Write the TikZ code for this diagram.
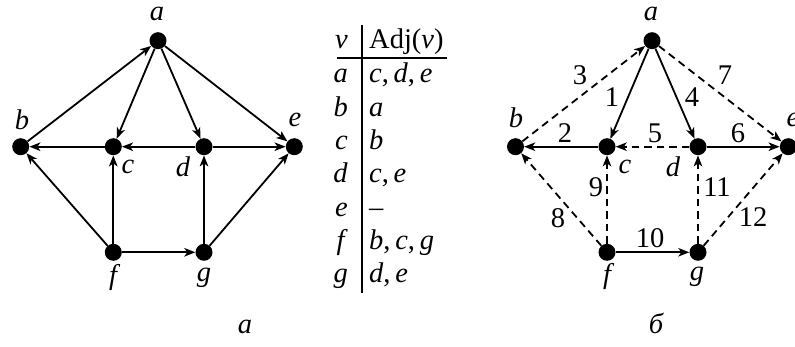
\documentclass[tikz,border=0pt]{standalone}
\usepackage{fontspec}
\setmainfont{Liberation Serif}
\usetikzlibrary{arrows.meta}
\newcommand\bigfont{\fontsize{28.5}{34}\selectfont}
\tikzset{
  vtx/.style={circle,fill=black,inner sep=0pt,minimum size=17pt},
  arc/.style={line width=1.8pt,-{Stealth[length=11pt,width=8.5pt,inset=3pt]}},
  treearc/.style={arc},
  backarc/.style={arc,dash pattern=on 7.5pt off 5pt},
  lbl/.style={inner sep=0pt,font=\bigfont\itshape},
  num/.style={inner sep=0pt,font=\bigfont},
  cell/.style={inner sep=0pt,font=\bigfont},
  rule/.style={line width=1.3pt},
}
\newcommand\mi[1]{\textit{#1}}
\begin{document}
\begin{tikzpicture}[x=1pt,y=-1pt]
\useasboundingbox (0,0) rectangle (795,347);

% ---------- left graph ----------
\node[vtx] (a1) at (158,40.7) {};
\node[vtx] (b1) at (20.7,146.7) {};
\node[vtx] (c1) at (113.3,146.7) {};
\node[vtx] (d1) at (204,146.7) {};
\node[vtx] (e1) at (294.3,146.7) {};
\node[vtx] (f1) at (113.3,252.3) {};
\node[vtx] (g1) at (204,252.3) {};

\node[lbl] (la1) at (157,14) {a};
\node[lbl] (lb1) at (22,120) {b};
\node[lbl] (lc1) at (128,167) {c};
\node[lbl] (ld1) at (183,167) {d};
\node[lbl] (le1) at (295,120) {e};
\node[lbl] (lf1) at (113,278) {f};
\node[lbl] (lg1) at (204,278) {g};

\draw[arc] (b1) -- (a1);
\draw[arc] (a1) -- (c1);
\draw[arc] (a1) -- (d1);
\draw[arc] (a1) -- (e1);
\draw[arc] (c1) -- (b1);
\draw[arc] (d1) -- (c1);
\draw[arc] (d1) -- (e1);
\draw[arc] (f1) -- (b1);
\draw[arc] (f1) -- (c1);
\draw[arc] (f1) -- (g1);
\draw[arc] (g1) -- (d1);
\draw[arc] (g1) -- (e1);

% ---------- table ----------
\draw[rule] (337,58) -- (447,58);
\draw[rule] (362,25) -- (362,293);
\node[cell,anchor=base east] (hv) at (348,49) {\mi{v}};
\node[cell,anchor=base west] (ha) at (369,49) {Adj(\mi{v})};
\node[cell,anchor=base east] (ra) at (348,83) {\mi{a}};
\node[cell,anchor=base west] (sa) at (369,83) {\mi{c},\,\mi{d},\,\mi{e}};
\node[cell,anchor=base east] (rb) at (348,116.3) {\mi{b}};
\node[cell,anchor=base west] (sb) at (369,116.3) {\mi{a}};
\node[cell,anchor=base east] (rc) at (348,149.7) {\mi{c}};
\node[cell,anchor=base west] (sc) at (369,149.7) {\mi{b}};
\node[cell,anchor=base east] (rd) at (348,183) {\mi{d}};
\node[cell,anchor=base west] (sd) at (369,183) {\mi{c},\,\mi{e}};
\node[cell,anchor=base east] (re) at (348,216.3) {\mi{e}};
\node[cell,anchor=base west] (se) at (369,216.3) {–};
\node[cell,anchor=base east] (rf) at (348,249.7) {\mi{f}};
\node[cell,anchor=base west] (sf) at (369,249.7) {\mi{b},\,\mi{c},\,\mi{g}};
\node[cell,anchor=base east] (rg) at (348,283) {\mi{g}};
\node[cell,anchor=base west] (sg) at (369,283) {\mi{d},\,\mi{e}};

% ---------- right graph ----------
\node[vtx] (a2) at (652,40.7) {};
\node[vtx] (b2) at (515.5,146.7) {};
\node[vtx] (c2) at (607,146.7) {};
\node[vtx] (d2) at (698,146.7) {};
\node[vtx] (e2) at (788.3,146.7) {};
\node[vtx] (f2) at (607,252.3) {};
\node[vtx] (g2) at (698,252.3) {};

\node[lbl] (la2) at (651,14) {a};
\node[lbl] (lb2) at (516,118) {b};
\node[lbl] (lc2) at (625,167) {c};
\node[lbl] (ld2) at (673,167) {d};
\node[lbl] (le2) at (793,120) {e};
\node[lbl] (lf2) at (607,277) {f};
\node[lbl] (lg2) at (697,277) {g};

\draw[backarc] (b2) -- (a2);
\draw[treearc] (a2) -- (c2);
\draw[treearc] (a2) -- (d2);
\draw[backarc] (a2) -- (e2);
\draw[treearc] (c2) -- (b2);
\draw[backarc] (d2) -- (c2);
\draw[treearc] (d2) -- (e2);
\draw[backarc] (f2) -- (b2);
\draw[backarc] (f2) -- (c2);
\draw[treearc] (f2) -- (g2);
\draw[backarc] (g2) -- (d2);
\draw[backarc] (g2) -- (e2);

\node[num] (n3) at (580,75) {3};
\node[num] (n1) at (612,97) {1};
\node[num] (n4) at (692,97) {4};
\node[num] (n7) at (725,75) {7};
\node[num] (n2) at (565,133) {2};
\node[num] (n5) at (655,133) {5};
\node[num] (n6) at (738,133) {6};
\node[num] (n9) at (596,187) {9};
\node[num] (n11) at (717,187) {11};
\node[num] (n8) at (558,218) {8};
\node[num] (n12) at (753,217) {12};
\node[num] (n10) at (650,238) {10};

% ---------- captions ----------
\node[lbl,anchor=base] (capa) at (245,334) {а};
\node[lbl,anchor=base] (capb) at (656,334) {б};
\end{tikzpicture}
\end{document}
